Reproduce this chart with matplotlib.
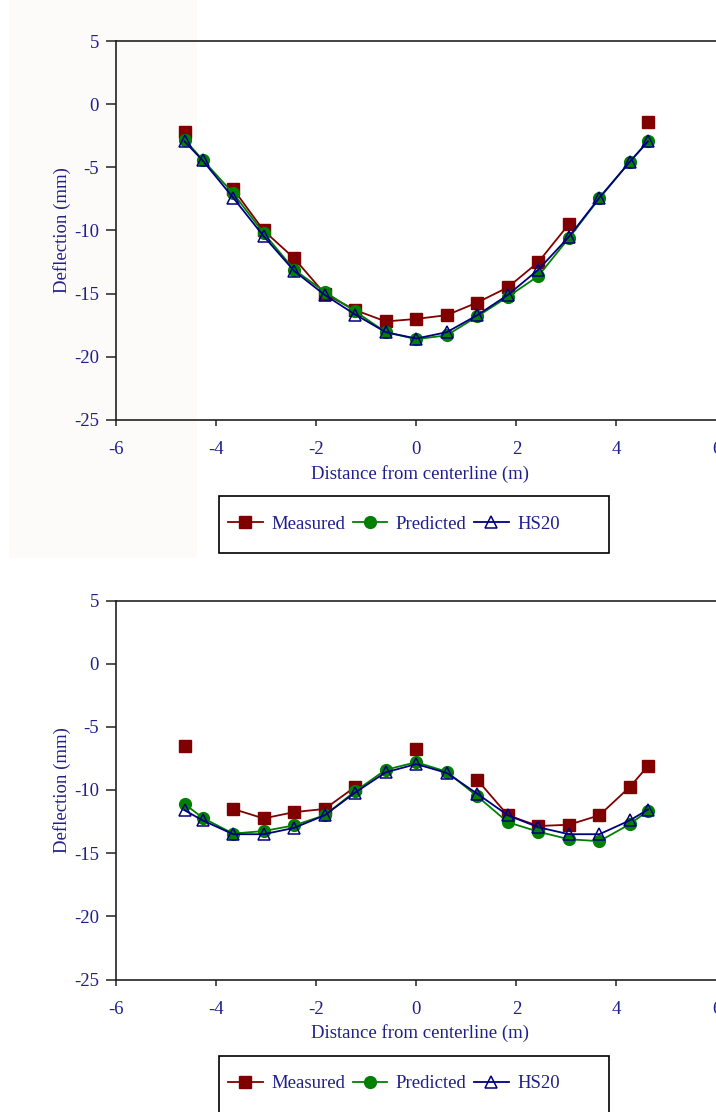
import numpy as np
import matplotlib
matplotlib.use("Agg")
import matplotlib.pyplot as plt
from matplotlib.patches import Rectangle

# distance from centerline (m)
dist = [-4.63, -4.27, -3.66, -3.05, -2.44, -1.83, -1.22, -0.61, 0.0,
        0.61, 1.22, 1.83, 2.44, 3.05, 3.66, 4.27, 4.63]
nan = np.nan

# top chart
meas_1 = [-2.2, nan, -6.7, -10.0, -12.2, -15.0, -16.3, -17.2, -17.0,
          -16.7, -15.7, -14.5, -12.5, -9.5, nan, nan, -1.4]
pred_1 = [-2.8, -4.4, -7.05, -10.2, -13.1, -14.85, -16.4, -18.05, -18.6,
          -18.3, -16.8, -15.25, -13.6, -10.6, -7.45, -4.55, -2.95]
hs20_1 = [-2.95, -4.45, -7.4, -10.45, -13.2, -15.1, -16.65, -18.05, -18.55,
          -18.05, -16.7, -15.1, -13.1, -10.5, -7.4, -4.55, -2.95]

# bottom chart
meas_2 = [-6.5, nan, -11.5, -12.25, -11.75, -11.5, -9.75, nan, -6.75,
          nan, -9.2, -12.0, -12.85, -12.75, -12.0, -9.75, -8.1]
pred_2 = [-11.1, -12.2, -13.45, -13.25, -12.8, -12.0, -10.1, -8.4, -7.8,
          -8.55, -10.5, -12.55, -13.3, -13.9, -14.05, -12.7, -11.65]
hs20_2 = [-11.6, -12.4, -13.5, -13.5, -13.0, -12.0, -10.2, -8.6, -7.95,
          -8.65, -10.3, -12.0, -12.95, -13.5, -13.5, -12.4, -11.55]

xticks = [-6, -4, -2, 0, 2, 4, 6]
yticks = [5, 0, -5, -10, -15, -20, -25]

W, H = 716, 1112
txt = "#1f1f8c"
plt.rcParams["font.family"] = ["Liberation Serif", "DejaVu Serif"]
plt.rcParams["font.size"] = 13.5
plt.rcParams["axes.unicode_minus"] = False

fig = plt.figure(figsize=(W / 100, H / 100), dpi=100)
fig.patch.set_facecolor("white")
# faint tinted block behind the upper chart
fig.patches.append(Rectangle((9 / W, 1 - 558 / H), 188 / W, 558 / H,
                             transform=fig.transFigure, facecolor="#fcfbf9",
                             edgecolor="none", zorder=-5))


def panel(top_px, meas, pred, hs20):
    bottom_px = top_px + 379
    ax = fig.add_axes([116 / W, (H - bottom_px) / H, 600.5 / W, 379 / H])
    ax.patch.set_alpha(0)
    ax.plot(dist, meas, color="#800000", lw=1.3, marker="s", ms=8.5,
            label="Measured")
    ax.plot(dist, pred, color="#008000", lw=1.3, marker="o", ms=8.5,
            label="Predicted")
    ax.plot(dist, hs20, color="#000080", lw=1.3, marker="^", ms=8.5,
            mfc="none", mew=1.1, label="HS20")
    ax.set_xlim(-6, 6)
    ax.set_ylim(-25, 5)
    ax.set_xticks(xticks)
    ax.set_yticks(yticks)
    ax.spines["right"].set_visible(False)
    for s in ["left", "bottom", "top"]:
        ax.spines[s].set_color("#222222")
        ax.spines[s].set_linewidth(1.2)
    ax.tick_params(axis="y", direction="out", length=7.2, width=1.1,
                   colors="#222222", labelcolor=txt, pad=5)
    ax.tick_params(axis="x", direction="out", length=4.3, width=1.1,
                   colors="#222222", labelcolor=txt, pad=11)
    ax.set_xlabel("Distance from centerline (m)", color=txt, va="center")
    ax.xaxis.set_label_coords(0.506, -54 / 379)
    ax.set_ylabel("Deflection (mm)", color=txt, va="center")
    ax.yaxis.set_label_coords(-54 / 600.5, 0.5)

    # legend box under the chart
    box_top = bottom_px + 76
    fig.patches.append(Rectangle((219 / W, 1 - (box_top + 57) / H), 390 / W, 57 / H,
                                 transform=fig.transFigure, facecolor="none",
                                 edgecolor="black", lw=1.2))
    ax.legend(loc="center left", bbox_to_anchor=(228 / W, 1 - (box_top + 28) / H),
              bbox_transform=fig.transFigure, ncol=3, frameon=False,
              borderpad=0, borderaxespad=0, handlelength=1.85,
              handletextpad=0.45, columnspacing=0.4, labelcolor=txt)
    return ax


panel(41, meas_1, pred_1, hs20_1)
panel(600.5, meas_2, pred_2, hs20_2)

plt.savefig("out.png", dpi=100)
